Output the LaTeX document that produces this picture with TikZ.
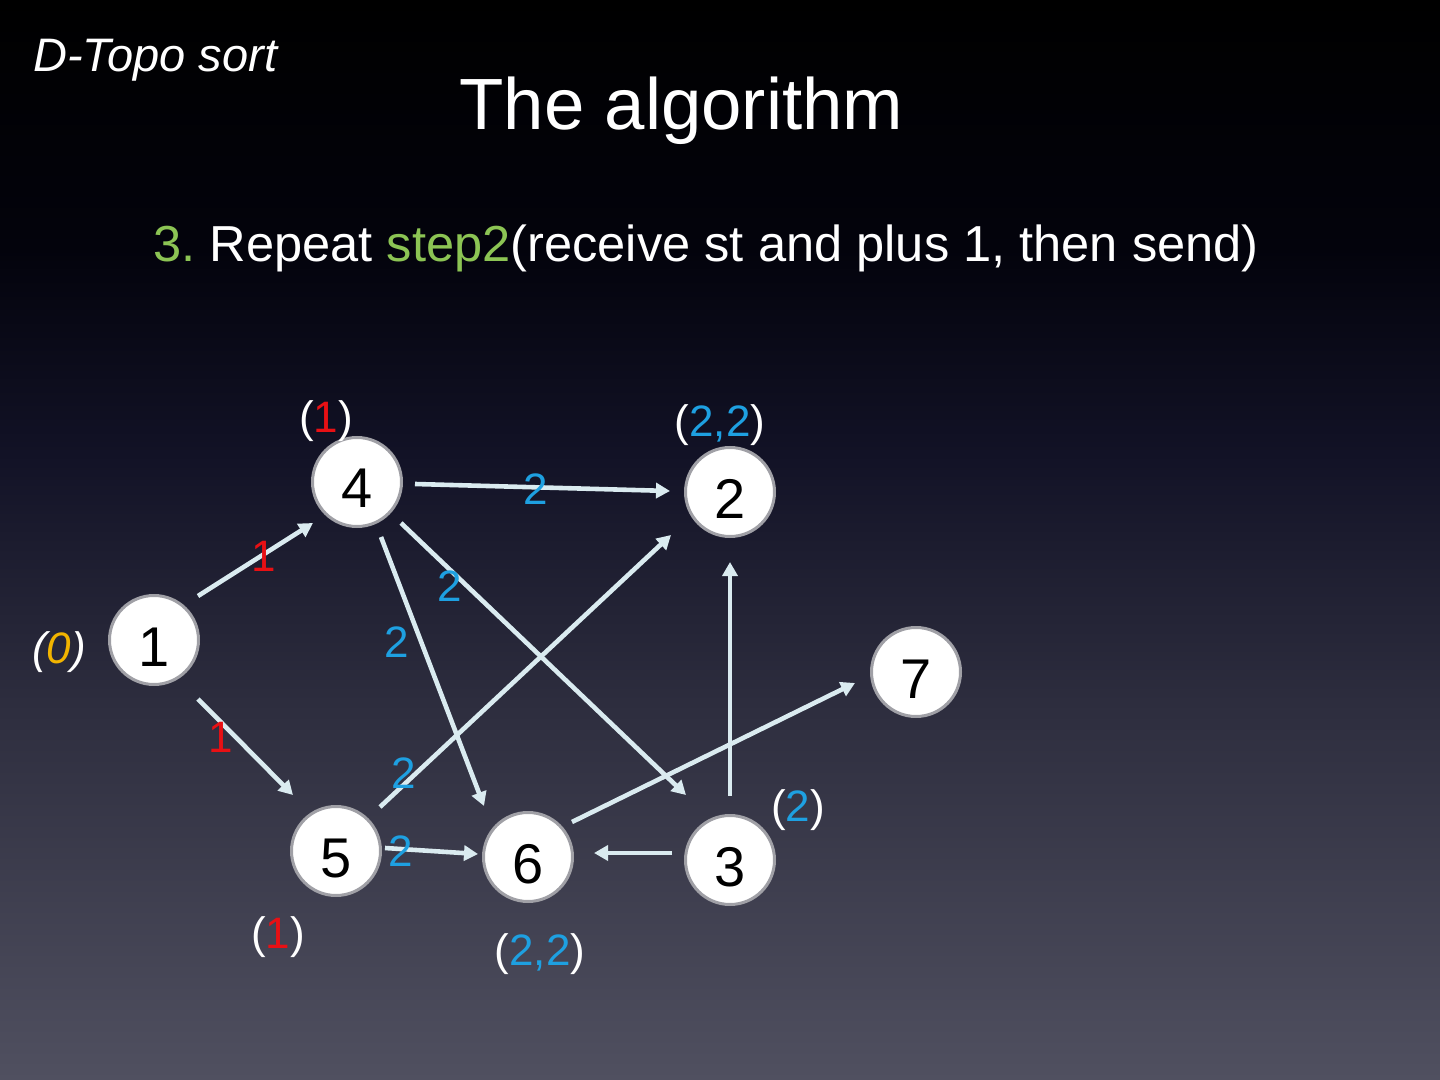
\documentclass[tikz,border=0pt]{standalone}
\usepackage{fontspec}
\setmainfont{Liberation Sans}
\usetikzlibrary{arrows.meta,calc}
\definecolor{edgec}{RGB}{218,235,240}
\definecolor{lblue}{RGB}{30,160,225}
\definecolor{lred}{RGB}{232,16,20}
\definecolor{lgreen}{RGB}{140,196,84}
\definecolor{lorange}{RGB}{242,180,0}
\definecolor{ringc}{RGB}{160,160,166}
\definecolor{bgA}{RGB}{80,80,96}
\definecolor{bgB}{RGB}{45,45,62}
\definecolor{bgC}{RGB}{18,18,38}
\definecolor{bgD}{RGB}{3,3,12}
\pgfdeclareverticalshading{slidebg}{100bp}{color(0bp)=(bgA); color(25bp)=(bgA); color(42.5bp)=(bgB); color(54bp)=(bgC); color(63.5bp)=(bgD); color(75bp)=(black); color(100bp)=(black)}
\frenchspacing
\begin{document}
\begin{tikzpicture}[x=0.5pt,y=-0.5pt,
  vtx/.style={circle, draw=ringc, line width=1.5pt, fill=white, minimum size=44.5pt, inner sep=0pt,
    font=\fontsize{28pt}{30pt}\selectfont, text=black, text height=26pt, text depth=0pt},
  arr/.style={draw=edgec, line width=2.3pt, -{Triangle[length=7pt,width=7.5pt]}},
  lbl/.style={font=\fontsize{22pt}{24pt}\selectfont, inner sep=0pt},
  plbl/.style={font=\fontsize{22pt}{24pt}\selectfont, inner sep=0pt, anchor=base, text=white}]
\shade[shading=slidebg] (0,0) rectangle (1440,1080);
\useasboundingbox (0,0) rectangle (1440,1080);

% texts
\node[anchor=base west, inner sep=0pt, text=white, font=\fontsize{23.5pt}{26pt}\selectfont\itshape] (tag) at (33,72) {D-Topo sort};
\node[anchor=base, inner sep=0pt, text=white, font=\fontsize{36.3pt}{40pt}\selectfont] (title) at (681.5,130) {The algorithm};
\node[anchor=base west, inner sep=0pt, text=white, font=\fontsize{25.3pt}{28pt}\selectfont] (sub) at (153,262) {\textcolor{lgreen}{3.} Repeat \textcolor{lgreen}{step2}(receive st and plus 1, then send)};

% vertices
\node[vtx] (n1) at (154,640) {1};
\node[vtx] (n4) at (357,482) {4};
\node[vtx] (n2) at (730,492) {2};
\node[vtx] (n7) at (916,672) {7};
\node[vtx] (n5) at (336,851) {5};
\node[vtx] (n6) at (528,857) {6};
\node[vtx] (n3) at (730,860) {3};

% edges
\draw[arr] ($(n1)+(44,-44)$) -- ($(n4)+(-44,41)$);
\draw[arr] ($(n1)+(44,59)$) -- ($(n5)+(-43,-56)$);
\draw[arr] ($(n4)+(58,2)$) -- ($(n2)+(-60,-1)$);
\draw[arr] ($(n4)+(24,55)$) -- ($(n6)+(-44,-51)$);
\draw[arr] ($(n4)+(44,41)$) -- ($(n3)+(-44,-65)$);
\draw[arr] ($(n5)+(44,-44)$) -- ($(n2)+(-59,43)$);
\draw[arr] ($(n5)+(49,-3)$) -- ($(n6)+(-50,-3)$);
\draw[arr] ($(n3)+(-58,-7)$) -- ($(n6)+(66,-4)$);
\draw[arr] ($(n3)+(0,-64)$) -- ($(n2)+(0,70)$);
\draw[arr] ($(n6)+(44,-35)$) -- ($(n7)+(-61,11)$);

% edge labels
\node[lbl, text=lred] (l14) at (264,556) {1};
\node[lbl, text=lred] (l15) at (221,737) {1};
\node[lbl, text=lblue] (l42) at (536,489) {2};
\node[lbl, text=lblue] (l43) at (450,586) {2};
\node[lbl, text=lblue] (l46) at (397,642) {2};
\node[lbl, text=lblue] (l52) at (404,773) {2};
\node[lbl, text=lblue] (l56) at (401,851) {2};

% state labels
\node[plbl] (s4) at (326,432) {(\textcolor{lred}{1})};
\node[plbl, font=\fontsize{22pt}{24pt}\selectfont\itshape] (s1) at (59,663) {(\textcolor{lorange}{0})};
\node[plbl] (s2) at (720,437) {(\textcolor{lblue}{2,2})};
\node[plbl] (s5) at (278,948) {(\textcolor{lred}{1})};
\node[plbl] (s6) at (540,965) {(\textcolor{lblue}{2,2})};
\node[plbl] (s3) at (798,821) {(\textcolor{lblue}{2})};
\end{tikzpicture}
\end{document}
